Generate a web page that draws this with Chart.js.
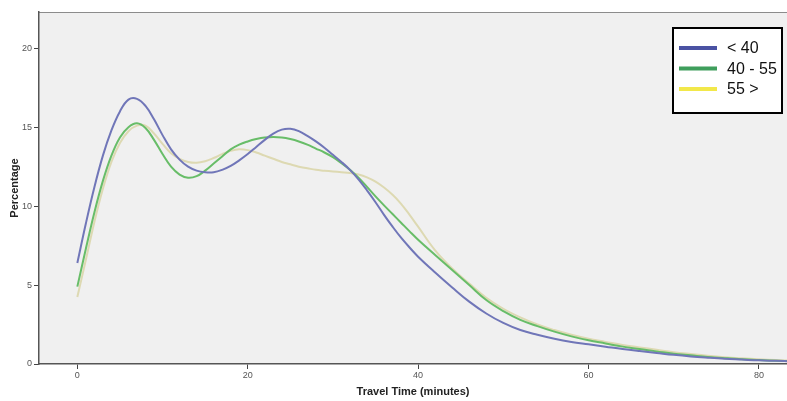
<!DOCTYPE html>
<html>
<head>
<meta charset="utf-8">
<script src="https://cdn.jsdelivr.net/npm/chart.js@4.4.1/dist/chart.umd.min.js"></script>
<style>
    html, body { margin: 0; padding: 0; background: #ffffff; }
    #wrap { width: 787px; height: 401px; }
</style>
</head>
<body>
<div id="wrap"><canvas id="travelChart" width="787" height="401"></canvas></div>
<script>
// travel time in minutes: every minute up to 40, then every 2 minutes
const minutes = [
    0, 1, 2, 3, 4, 5, 6, 7, 8, 9, 10, 11, 12, 13, 14, 15, 16, 17, 18, 19, 20,
    21, 22, 23, 24, 25, 26, 27, 28, 29, 30, 31, 32, 33, 34, 35, 36, 37, 38, 39, 40,
    42, 44, 46, 48, 50, 52, 54, 56, 58, 60, 62, 64, 66, 68, 70, 72, 74, 76, 78, 80, 82, 84
];

const under40 = [
    6.4, 8.9, 11.2, 13.2, 14.8, 16.0, 16.75, 16.8, 16.35, 15.5, 14.5, 13.6, 12.95, 12.5, 12.25, 12.15, 12.15, 12.3, 12.55, 12.9, 13.3,
    13.75, 14.2, 14.6, 14.85, 14.9, 14.75, 14.45, 14.1, 13.7, 13.25, 12.8, 12.3, 11.7, 11.0, 10.25, 9.45, 8.7, 8.0, 7.38, 6.8,
    5.8, 4.85, 3.95, 3.2, 2.6, 2.15, 1.85, 1.6, 1.4, 1.25, 1.1, 0.95, 0.82, 0.7, 0.58, 0.48, 0.4, 0.33, 0.28, 0.23, 0.2, 0.17
];
const from40to55 = [
    4.9, 7.3, 9.6, 11.6, 13.2, 14.35, 15.0, 15.25, 14.95, 14.2, 13.3, 12.5, 12.0, 11.8, 11.9, 12.25, 12.7, 13.15, 13.6, 13.9, 14.1,
    14.25, 14.35, 14.38, 14.35, 14.25, 14.1, 13.9, 13.65, 13.4, 13.1, 12.72, 12.3, 11.8, 11.22, 10.62, 10.05, 9.5, 8.95, 8.4, 7.87,
    6.9, 5.95, 5.0, 4.05, 3.35, 2.8, 2.4, 2.05, 1.75, 1.5, 1.3, 1.1, 0.95, 0.8, 0.65, 0.55, 0.45, 0.37, 0.3, 0.25, 0.21, 0.18
];
const over55 = [
    4.25, 6.6, 9.0, 11.1, 12.8, 14.0, 14.75, 15.1, 15.1, 14.6, 13.95, 13.35, 13.0, 12.8, 12.75, 12.85, 13.05, 13.3, 13.5, 13.6, 13.55,
    13.4, 13.2, 13.0, 12.8, 12.65, 12.5, 12.4, 12.3, 12.25, 12.2, 12.15, 12.1, 12.0, 11.82, 11.55, 11.18, 10.72, 10.15, 9.45, 8.7,
    7.2, 6.05, 5.1, 4.2, 3.5, 2.95, 2.5, 2.15, 1.85, 1.6, 1.4, 1.2, 1.05, 0.9, 0.75, 0.63, 0.52, 0.43, 0.36, 0.3, 0.25, 0.21
];

const seriesLabels = ['< 40', '40 - 55', '55 >'];
const lineColours = ['#7076b8', '#68bd68', '#ddd9b2'];
const legendColours = ['#4a52a3', '#3f9e5c', '#f2e84a'];

function toPoints(values) {
    return minutes.map((m, i) => ({ x: m, y: values[i] }));
}

// plot background and top frame line
const plotBackground = {
    id: 'plotBackground',
    beforeDraw(chart) {
        const { ctx, chartArea } = chart;
        ctx.save();
        ctx.fillStyle = '#ffffff';
        ctx.fillRect(0, 0, chart.width, chart.height);
        ctx.fillStyle = '#f0f0f0';
        ctx.fillRect(chartArea.left, chartArea.top, chartArea.right - chartArea.left, chartArea.bottom - chartArea.top);
        ctx.strokeStyle = '#8c8c8c';
        ctx.lineWidth = 1;
        ctx.beginPath();
        ctx.moveTo(chartArea.left, chartArea.top + 0.5);
        ctx.lineTo(chartArea.right, chartArea.top + 0.5);
        ctx.stroke();
        ctx.restore();
    }
};

// boxed legend inside the plot, top right
const boxLegend = {
    id: 'boxLegend',
    afterDraw(chart) {
        const { ctx } = chart;
        const x = 673, y = 28, w = 109, h = 85;
        ctx.save();
        ctx.fillStyle = '#ffffff';
        ctx.fillRect(x, y, w, h);
        ctx.strokeStyle = '#000000';
        ctx.lineWidth = 2;
        ctx.strokeRect(x, y, w, h);
        ctx.font = '16px "Liberation Sans", Arial, sans-serif';
        ctx.textBaseline = 'middle';
        chart.data.datasets.forEach((ds, i) => {
            const ly = 48 + i * 20.5;
            ctx.strokeStyle = legendColours[i];
            ctx.lineWidth = 4;
            ctx.beginPath();
            ctx.moveTo(679, ly);
            ctx.lineTo(717, ly);
            ctx.stroke();
            ctx.fillStyle = '#111111';
            ctx.fillText(ds.label, 727, ly + 1);
        });
        ctx.restore();
    }
};

const tickFont = { family: '"Liberation Sans", Arial, sans-serif', size: 9 };
const titleFont = { family: '"Liberation Sans", Arial, sans-serif', size: 11, weight: 'bold' };

new Chart(document.getElementById('travelChart').getContext('2d'), {
    type: 'line',
    data: {
        datasets: [under40, from40to55, over55].map((values, i) => ({
            label: seriesLabels[i],
            data: toPoints(values),
            borderColor: lineColours[i],
            borderWidth: 2,
            pointRadius: 0,
            fill: false,
            tension: 0.4,
        })),
    },
    options: {
        responsive: false,
        animation: false,
        layout: { padding: { top: 12, right: 0, left: 0, bottom: 0 } },
        plugins: {
            legend: { display: false },
            tooltip: { enabled: false },
        },
        scales: {
            x: {
                type: 'linear',
                min: -4.5,
                max: 83.3,
                afterFit: (scale) => { scale.height = 37; },
                ticks: {
                    stepSize: 20,
                    includeBounds: false,
                    font: tickFont,
                    color: '#555555',
                    padding: 1,
                    maxRotation: 0,
                },
                grid: { drawOnChartArea: false, drawTicks: true, tickLength: 5, color: '#444444' },
                border: { display: true, color: '#555555', width: 1.5 },
                title: {
                    display: true,
                    text: 'Travel Time (minutes)',
                    font: titleFont,
                    color: '#222222',
                    padding: { top: 2, bottom: 2 },
                },
            },
            y: {
                min: 0,
                max: 22.3,
                afterFit: (scale) => { scale.width = 39; },
                ticks: {
                    stepSize: 5,
                    includeBounds: false,
                    font: tickFont,
                    color: '#555555',
                    padding: 2,
                },
                grid: { drawOnChartArea: false, drawTicks: true, tickLength: 5, color: '#444444' },
                border: { display: true, color: '#555555', width: 1.5 },
                title: {
                    display: true,
                    text: 'Percentage',
                    font: titleFont,
                    color: '#222222',
                    padding: { top: 8, bottom: 0 },
                },
            },
        },
    },
    plugins: [plotBackground, boxLegend],
});
</script>
</body>
</html>
